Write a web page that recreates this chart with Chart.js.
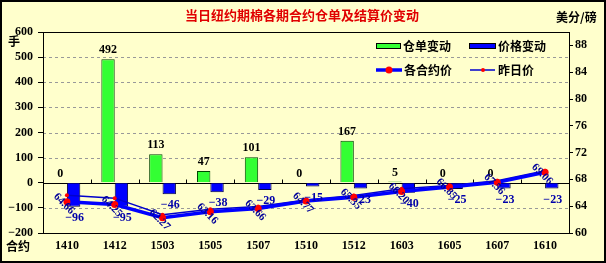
<!DOCTYPE html>
<html><head><meta charset="utf-8">
<script src="https://cdn.jsdelivr.net/npm/chart.js@4.4.0/dist/chart.umd.min.js"></script>
<style>html,body{margin:0;padding:0;background:#ffffcc;}#wrap{width:606px;height:263px;}</style>
</head><body><div id="wrap"><canvas id="c" width="606" height="263"></canvas></div>
<script>
const categories = ['1410','1412','1503','1505','1507','1510','1512','1603','1605','1607','1610'];
const warrantChange = [0, 492, 113, 47, 101, 0, 167, 5, 0, 0, null];
const priceChange = [-96, -95, -46, -38, -29, -15, -23, -40, -25, -23, -23];
const contractPrice = [64.66, 64.25, 62.27, 63.16, 63.66, 64.77, 65.35, 66.20, 66.85, 67.56, 69.06];
const prevPrice = [65.62, 65.20, 62.73, 63.54, 63.95, 64.92, 65.58, 66.60, 67.10, 67.79, 69.29];
const leftTicks = [-200, -100, 0, 100, 200, 300, 400, 500, 600];
const rightTicks = [60, 64, 68, 72, 76, 80, 84, 88];
const titleText = '当日纽约期棉各期合约仓单及结算价变动';
const leftUnit = '手';
const rightUnit = '美分/磅';
const xTitle = '合约';
const seriesNames = ['仓单变动', '价格变动', '各合约价', '昨日价'];

const NUM = 'bold 12px "Liberation Serif", serif';
const CJK = 'bold 12px "Noto Sans CJK SC", sans-serif';
const BG = '#ffffcc';

const deco = {
  id: 'deco',
  beforeDraw(chart) {
    const ctx = chart.ctx;
    ctx.save(); ctx.fillStyle = BG; ctx.fillRect(0, 0, chart.width, chart.height); ctx.restore();
  },
  beforeDatasetsDraw(chart) {
    const ctx = chart.ctx, a = chart.chartArea, y = chart.scales.y;
    ctx.save();
    // dashed gridlines
    ctx.strokeStyle = '#999999'; ctx.lineWidth = 1; ctx.setLineDash([3, 3]);
    ctx.beginPath();
    leftTicks.forEach(v => {
      if (v === 0 || v === leftTicks[0] || v === leftTicks[leftTicks.length - 1]) return;
      const py = Math.round(y.getPixelForValue(v)) + 0.5;
      ctx.moveTo(a.left, py); ctx.lineTo(a.right, py);
    });
    ctx.stroke();
    ctx.setLineDash([]);
    const z = Math.round(y.getPixelForValue(0)) + 0.5;
    ctx.strokeStyle = '#000'; ctx.lineWidth = 1;
    ctx.beginPath(); ctx.moveTo(a.left, z); ctx.lineTo(a.right, z); ctx.stroke();
    const n = categories.length, w = (a.right - a.left) / n;
    ctx.beginPath();
    for (let i = 1; i < n; i++) {
      const px = Math.round(a.left + i * w) + 0.5;
      ctx.moveTo(px, z); ctx.lineTo(px, z - 4);
    }
    ctx.stroke();
    ctx.restore();
  },
  afterDatasetsDraw(chart) {
    const ctx = chart.ctx, a = chart.chartArea;
    ctx.save();
    ctx.strokeStyle = '#000'; ctx.lineWidth = 1;
    ctx.strokeRect(Math.round(a.left) + 0.5, Math.round(a.top) + 0.5, Math.round(a.right - a.left), Math.round(a.bottom - a.top));
    ctx.font = NUM; ctx.textAlign = 'center'; ctx.textBaseline = 'middle';
    const m0 = chart.getDatasetMeta(0), m1 = chart.getDatasetMeta(1), m2 = chart.getDatasetMeta(2);
    warrantChange.forEach((v, i) => {
      if (v === null) return;
      const el = m0.data[i];
      ctx.fillStyle = '#000';
      ctx.fillText(String(v), el.x, el.y - 9);
    });
    priceChange.forEach((v, i) => {
      const el = m1.data[i];
      ctx.fillStyle = '#0000aa';
      ctx.fillText(String(v).replace('-', '\u2212'), el.x + 1, el.y + 11);
    });
    ctx.font = 'bold 11px "Liberation Serif", serif';
    contractPrice.forEach((v, i) => {
      const el = m2.data[i];
      ctx.save();
      ctx.translate(el.x - 3, el.y + 2);
      ctx.rotate(Math.PI / 4);
      ctx.fillStyle = '#000099';
      ctx.fillText(v.toFixed(2), 0, 0);
      ctx.restore();
    });
    ctx.restore();
  },
  afterDraw(chart) {
    const ctx = chart.ctx;
    ctx.save();
    ctx.font = 'bold 13px "Noto Sans CJK SC", sans-serif';
    ctx.fillStyle = '#e00000'; ctx.textAlign = 'center'; ctx.textBaseline = 'middle';
    ctx.fillText(titleText, 302, 15);
    ctx.fillStyle = '#000'; ctx.font = CJK;
    ctx.textAlign = 'left';
    ctx.fillText(leftUnit, 8, 41);
    ctx.fillText(rightUnit, 556, 17);
    ctx.fillText(xTitle, 6, 246);
    ctx.fillStyle = '#33ff33'; ctx.fillRect(376, 43, 25, 6);
    ctx.strokeStyle = '#000'; ctx.lineWidth = 1; ctx.strokeRect(376.5, 43.5, 24, 5);
    ctx.fillStyle = '#0000ff'; ctx.fillRect(469, 43, 27, 6);
    ctx.strokeRect(469.5, 43.5, 26, 5);
    ctx.fillStyle = '#000';
    ctx.fillText(seriesNames[0], 403, 46);
    ctx.fillText(seriesNames[1], 498, 46);
    ctx.fillText(seriesNames[2], 404, 70);
    ctx.fillText(seriesNames[3], 498, 70);
    ctx.strokeStyle = '#0000ff'; ctx.lineWidth = 3.5;
    ctx.beginPath(); ctx.moveTo(376, 70); ctx.lineTo(402, 70); ctx.stroke();
    ctx.fillStyle = '#ff0000';
    ctx.beginPath(); ctx.arc(389, 70, 3.5, 0, Math.PI * 2); ctx.fill();
    ctx.strokeStyle = '#0000cc'; ctx.lineWidth = 1.5;
    ctx.beginPath(); ctx.moveTo(470, 70); ctx.lineTo(495, 70); ctx.stroke();
    ctx.fillStyle = '#ff0000';
    ctx.beginPath(); ctx.arc(483, 70, 2, 0, Math.PI * 2); ctx.fill();
    ctx.strokeStyle = '#000'; ctx.lineWidth = 2;
    ctx.strokeRect(1, 1, chart.width - 2, chart.height - 2);
    ctx.restore();
  }
};

new Chart(document.getElementById('c'), {
  data: {
    labels: categories,
    datasets: [
      { type: 'bar', label: seriesNames[0], data: warrantChange, yAxisID: 'y', backgroundColor: '#33ff33', borderColor: '#004400', borderWidth: 1, order: 3, categoryPercentage: 0.56, barPercentage: 1.0 },
      { type: 'bar', label: seriesNames[1], data: priceChange, yAxisID: 'y', backgroundColor: '#0000ff', borderColor: '#000044', borderWidth: 1, order: 3, categoryPercentage: 0.56, barPercentage: 1.0 },
      { type: 'line', label: seriesNames[2], data: contractPrice, yAxisID: 'y1', borderColor: '#0000ff', borderWidth: 3.5, pointRadius: 3.5, pointBackgroundColor: '#ff0000', pointBorderColor: '#ff0000', pointBorderWidth: 0, tension: 0, order: 1 },
      { type: 'line', label: seriesNames[3], data: prevPrice, yAxisID: 'y1', borderColor: '#0000cc', borderWidth: 1.5, pointRadius: 2, pointBackgroundColor: '#ff0000', pointBorderColor: '#ff0000', pointBorderWidth: 0, tension: 0, order: 2 }
    ]
  },
  options: {
    responsive: false, animation: false, devicePixelRatio: 1,
    layout: { padding: { top: 32, left: 0, right: 0, bottom: 0 } },
    plugins: { legend: { display: false }, tooltip: { enabled: false }, title: { display: false } },
    scales: {
      x: {
        type: 'category', offset: true,
        grid: { display: false, drawTicks: false }, border: { display: false },
        ticks: { color: '#000', font: { family: '"Liberation Serif", serif', size: 12, weight: 'bold' }, padding: 6, maxRotation: 0, autoSkip: false },
        afterFit: s => { s.height = 30; }
      },
      y: {
        position: 'left', min: -200, max: 600,
        afterBuildTicks: s => { s.ticks = leftTicks.map(v => ({ value: v })); },
        grid: { color: 'rgba(0,0,0,0)', lineWidth: 1, drawTicks: true, tickLength: 5, tickColor: '#000' },
        border: { display: false },
        ticks: { color: '#000', font: { family: '"Liberation Serif", serif', size: 12, weight: 'bold' }, padding: 5, callback: v => String(v).replace('-', '\u2212') },
        afterFit: s => { s.width = 43; }
      },
      y1: {
        position: 'right', min: 60, max: 90,
        afterBuildTicks: s => { s.ticks = rightTicks.map(v => ({ value: v })); },
        grid: { drawOnChartArea: false, drawTicks: true, tickLength: 4, tickColor: '#000' },
        border: { display: false },
        ticks: { color: '#000', font: { family: '"Liberation Serif", serif', size: 12, weight: 'bold' }, padding: 2 },
        afterFit: s => { s.width = 37; }
      }
    }
  },
  plugins: [deco]
});
</script></body></html>
